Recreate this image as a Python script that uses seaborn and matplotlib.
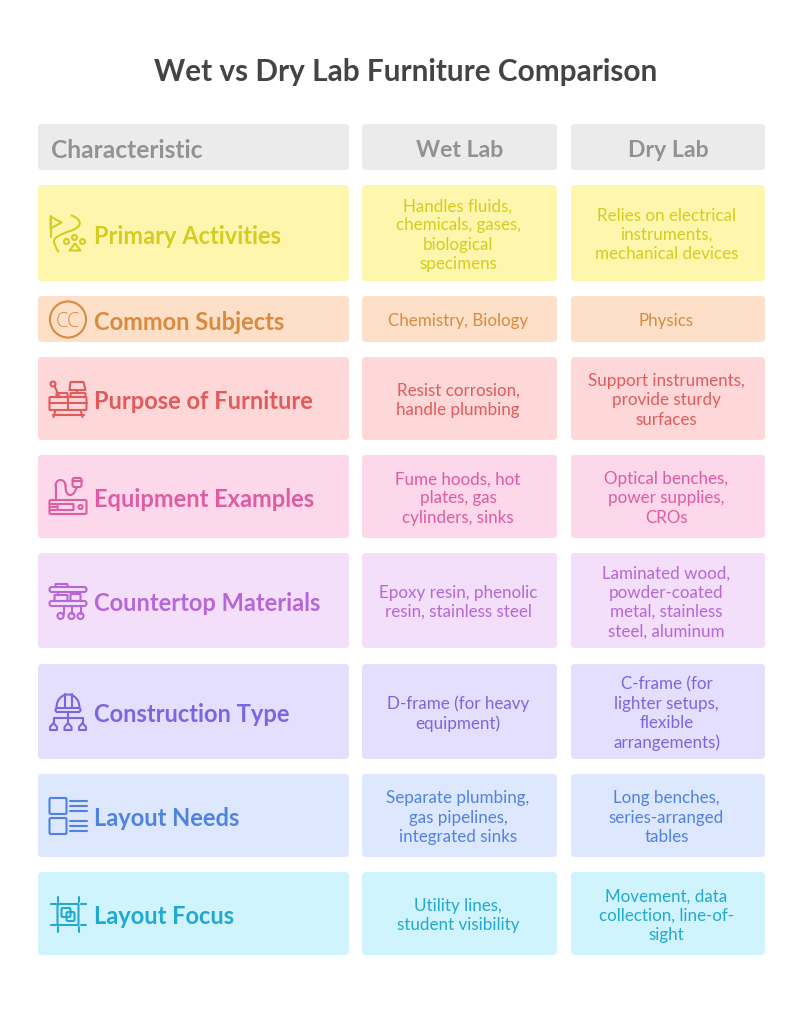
import matplotlib
matplotlib.use("Agg")
import matplotlib.pyplot as plt
import seaborn as sns
from matplotlib.patches import FancyBboxPatch, Circle, PathPatch, Polygon
from matplotlib.path import Path

title = "Wet vs Dry Lab Furniture Comparison"
headers = ["Characteristic", "Wet Lab", "Dry Lab"]
categories = ["Primary Activities", "Common Subjects", "Purpose of Furniture", "Equipment Examples",
              "Countertop Materials", "Construction Type", "Layout Needs", "Layout Focus"]
wet_lab = ["Handles fluids,\nchemicals, gases,\nbiological\nspecimens",
           "Chemistry, Biology",
           "Resist corrosion,\nhandle plumbing",
           "Fume hoods, hot\nplates, gas\ncylinders, sinks",
           "Epoxy resin, phenolic\nresin, stainless steel",
           "D-frame (for heavy\nequipment)",
           "Separate plumbing,\ngas pipelines,\nintegrated sinks",
           "Utility lines,\nstudent visibility"]
dry_lab = ["Relies on electrical\ninstruments,\nmechanical devices",
           "Physics",
           "Support instruments,\nprovide sturdy\nsurfaces",
           "Optical benches,\npower supplies,\nCROs",
           "Laminated wood,\npowder-coated\nmetal, stainless\nsteel, aluminum",
           "C-frame (for\nlighter setups,\nflexible\narrangements)",
           "Long benches,\nseries-arranged\ntables",
           "Movement, data\ncollection, line-of-\nsight"]

# ---- styles and layout (pixels) ----
BG = ["#fff6ad", "#fee0c8", "#fed8d8", "#fdd7ea", "#f3dffa", "#e4dffd", "#dde7fe", "#d0f4fe"]
FG = ["#d6cc1f", "#d98a3f", "#e25a5a", "#dd5ca3", "#b766da", "#7c66df", "#5083e0", "#23a9d0"]
COLS = [(38, 349), (362, 557), (571, 765)]
HEAD = (124, 170)
ROWS = [(185, 281), (296, 342), (357, 440), (455, 538), (553, 648), (664, 759), (774, 857), (872, 955)]
FONT = "Lato"
PX = 0.72

sns.set_theme(style="white")
plt.rcParams["font.family"] = [FONT, "DejaVu Sans"]
fig = plt.figure(figsize=(8.11, 10.24), dpi=100, facecolor="white")
ax = fig.add_axes([0, 0, 1, 1])
ax.set_xlim(0, 811)
ax.set_ylim(1024, 0)
ax.axis("off")
sns.despine(ax=ax, left=True, bottom=True)


def card(x0, x1, y0, y1, color):
    ax.add_patch(FancyBboxPatch((x0 + 4, y0 + 4), x1 - x0 - 8, y1 - y0 - 8,
                                boxstyle="round,pad=4,rounding_size=4", fc=color, ec="none"))


class Icon:
    def __init__(self, ox, oy, color, lw=1.5):
        self.ox, self.oy, self.c, self.lw = ox, oy, color, lw

    def p(self, x, y):
        return (self.ox + x, self.oy + y)

    def line(self, *pts):
        xs, ys = zip(*[self.p(*q) for q in pts])
        ax.plot(xs, ys, color=self.c, lw=self.lw, solid_capstyle="round", solid_joinstyle="round")

    def rect(self, x0, y0, x1, y1, r=1.0):
        ax.add_patch(FancyBboxPatch(self.p(x0 + r, y0 + r), x1 - x0 - 2 * r, y1 - y0 - 2 * r,
                                    boxstyle=f"round,pad={r},rounding_size={r}",
                                    fc="none", ec=self.c, lw=self.lw))

    def circ(self, x, y, r):
        ax.add_patch(Circle(self.p(x, y), r, fc="none", ec=self.c, lw=self.lw))

    def poly(self, *pts):
        ax.add_patch(Polygon([self.p(*q) for q in pts], closed=True, fc="none", ec=self.c,
                             lw=self.lw, joinstyle="round"))

    def curve(self, *pts):
        verts = [self.p(*q) for q in pts]
        codes = [Path.MOVETO] + [Path.CURVE4] * (len(verts) - 1)
        ax.add_patch(PathPatch(Path(verts, codes), fc="none", ec=self.c, lw=self.lw, capstyle="round"))


def icon_flag(i):
    i.line((1, 21), (1, 0))
    i.poly((1, 1), (12, 7), (1, 13))
    i.curve((22, 0), (33, 4), (33, 11), (22, 15), (10, 19), (2, 23), (5, 28), (6, 31), (7, 34), (9, 36))
    i.circ(17, 26, 2.5)
    i.circ(25, 22, 2.5)
    i.circ(33, 26, 2.5)
    i.poly((20, 35), (25.5, 28), (31, 35))


def icon_cc(i):
    i.circ(18.5, 18, 18)
    ax.text(i.ox + 18.5, i.oy + 18, "CC", color=i.c, fontsize=20 * PX, ha="center", va="center_baseline",
            family=["Open Sans"], fontweight="light")


def icon_furn(i):
    i.rect(0, 16, 37, 29, 1)
    i.line((0, 22), (37, 22))
    i.line((18.5, 16), (18.5, 29))
    i.line((3, 34), (34, 34))
    i.line((6, 29), (4, 36))
    i.line((31, 29), (33, 36))
    i.circ(3.5, 3, 2.5)
    i.line((5, 5), (10, 16))
    i.poly((21, 1), (34, 1), (36, 9), (20, 9))
    i.line((27.5, 9), (27.5, 12))
    i.rect(21, 12, 36, 16, 1)
    i.rect(7, 12, 18, 16, 1)


def icon_equip(i):
    i.rect(0, 23, 37, 37, 1.5)
    i.rect(8, 27, 24, 33, 0.5)
    for y in (27, 30, 33):
        i.line((1, y), (6, y))
    i.circ(31, 30, 2)
    i.line((6, 23), (6, 9))
    i.curve((6, 9), (6, 1), (16, 1), (16, 9))
    i.curve((16, 9), (16, 22), (25, 20), (27, 10))
    i.rect(23, 1, 32, 10, 2)
    i.line((23, 4), (32, 4))


def icon_counter(i):
    i.rect(0, 4, 37, 9, 2.4)
    i.rect(6, 1, 18, 4, 0.5)
    i.rect(0, 18, 37, 23, 2.4)
    i.rect(5, 12, 18, 18, 0.5)
    i.rect(21, 11, 31, 18, 0.5)
    i.line((8, 9), (8, 12))
    i.line((28, 9), (28, 11))
    i.line((14, 23), (14, 31))
    i.line((22, 23), (22, 31))
    i.line((31, 23), (31, 31))
    i.circ(11, 33, 3)
    i.circ(22, 33, 3)
    i.circ(31, 33, 3)


def icon_constr(i):
    i.curve((7, 14), (7, -4), (30, -4), (30, 14))
    i.line((15, 0), (15, 14))
    i.line((22, 0), (22, 14))
    i.rect(6, 14, 31, 18, 2)
    i.line((18.5, 18), (18.5, 24))
    i.line((4, 24), (33, 24))
    for x in (4, 18.5, 33):
        i.line((x, 24), (x, 29))
        i.poly((x, 29), (x + 3.5, 33), (x + 3.5, 36), (x - 3.5, 36), (x - 3.5, 33))


def icon_needs(i):
    i.rect(0, 1, 17, 17, 1.5)
    i.rect(0, 21, 17, 37, 1.5)
    for y in (4, 9, 14, 24, 29, 34):
        i.line((20, y), (37, y))


def icon_focus(i):
    i.rect(8, 7, 29, 28, 0.5)
    i.rect(12, 11, 21, 20, 1.5)
    i.rect(17, 15, 25, 24, 1.5)
    for y in (7, 28):
        i.line((1, y), (6, y))
        i.line((31, y), (36, y))
    for x in (8, 29):
        i.line((x, 0), (x, 5))
        i.line((x, 30), (x, 35))


ICONS = [icon_flag, icon_cc, icon_furn, icon_equip, icon_counter, icon_constr, icon_needs, icon_focus]
ICON_OFF = [-18, -18, -18, -20, -18, -18, -19, -17]

ax.text(405.5, 72, title, ha="center", va="center", fontsize=29.8 * PX, fontweight="bold", color="#444444")

for (x0, x1), h in zip(COLS, headers):
    card(x0, x1, HEAD[0], HEAD[1], "#ebebeb")
for k, ((x0, x1), h) in enumerate(zip(COLS, headers)):
    cx = 51 if k == 0 else (x0 + x1) / 2
    ax.text(cx, (HEAD[0] + HEAD[1]) / 2 + 3.5, h, ha="left" if k == 0 else "center", va="center",
            fontsize=(24.5 if k == 0 else 23) * PX, fontweight="bold", color="#929292")

for n, (y0, y1) in enumerate(ROWS):
    cy = (y0 + y1) / 2
    for x0, x1 in COLS:
        card(x0, x1, y0, y1, BG[n])
    ICONS[n](Icon(49.5, cy + ICON_OFF[n] + 0.5, FG[n]))
    ax.text(94, cy + 3, categories[n], ha="left", va="center", fontsize=23.6 * PX, fontweight="bold", color=FG[n])
    for (x0, x1), txt in zip(COLS[1:], (wet_lab[n], dry_lab[n])):
        ax.text((x0 + x1) / 2 - 1.5, cy + 2, txt, ha="center", va="center", fontsize=17 * PX,
                color=FG[n], linespacing=1.24)

fig.savefig("out.png", dpi=100, facecolor="white")
